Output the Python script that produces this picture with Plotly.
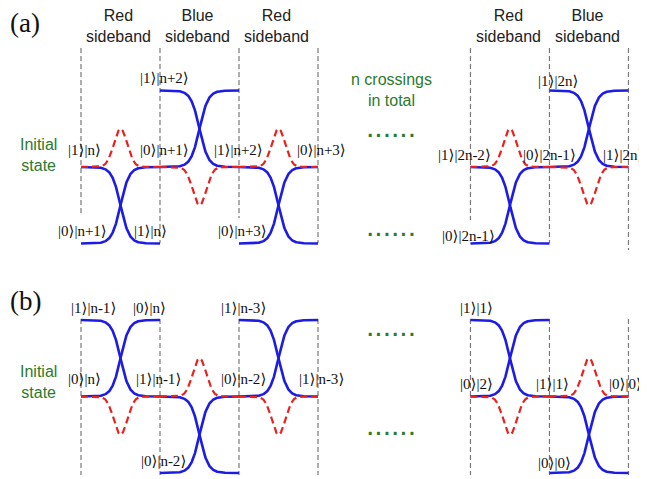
import numpy as np
import plotly.graph_objects as go

# ---------------- data ----------------
# sideband type of each crossing (left group: 3 crossings, right group: 2 crossings)
sideband_types = ["Red", "Blue", "Red", "Red", "Blue"]
segment_group = [0, 0, 0, 1, 1]
segment_slot = [0, 1, 2, 0, 1]
# level that the middle state exchanges with in each crossing (+1 upper, -1 lower)
partner_a = [-1, 1, -1, -1, 1]
partner_b = [1, -1, 1, 1, -1]

# ket labels: (qubit state, phonon state, boundary id, level)
kets_a = [
    ("1", "n", 0, 0), ("0", "n+1", 1, 0), ("1", "n+2", 2, 0), ("0", "n+3", 3, 0),
    ("1", "2n-2", 4, 0), ("0", "2n-1", 5, 0), ("1", "2n", 6, 0),
    ("1", "n+2", 1, 1), ("1", "2n", 5, 1),
    ("0", "n+1", 0, -1), ("1", "n", 1, -1), ("0", "n+3", 2, -1), ("0", "2n-1", 4, -1),
]
kets_b = [
    ("1", "n-1", 0, 1), ("0", "n", 1, 1), ("1", "n-3", 2, 1), ("1", "1", 4, 1),
    ("0", "n", 0, 0), ("1", "n-1", 1, 0), ("0", "n-2", 2, 0), ("1", "n-3", 3, 0),
    ("0", "2", 4, 0), ("1", "1", 5, 0), ("0", "0", 6, 0),
    ("0", "n-2", 1, -1), ("0", "0", 5, -1),
]

# ---------------- layout constants ----------------
W, H = 647, 479
PAGE_MARGIN = 8                      # default body margin of the html page
X0_PX, SEG_PX = 81.0, 79.0           # first boundary / segment width in pixels
MID_A_PX, UNIT_PX = 167.0, 76.5      # middle level of (a) / level spacing
GROUP_START = [0.0, 4.93]
B_OFFSET = -3.0                      # panel (b) shift in level units

BLUE = "#1c1ce6"
RED = "#e8231f"
GREEN = "#2c7a2c"
GRAY = "#7a7a7a"

RB = "<span style='font-family:DejaVu Serif'>⟩</span>"


def ket(q, ph):
    return f"|{q}{RB}|{ph}{RB}"


def xd(px):
    return (px - X0_PX) / SEG_PX


def yd(py):
    return (MID_A_PX - py) / UNIT_PX


boundaries = [GROUP_START[0] + i for i in range(4)] + [GROUP_START[1] + i for i in range(3)]

fig = go.Figure()

t = np.linspace(0, 1, 240)
s = (1 + np.tanh((t - 0.5) / 0.11)) / 2
g = np.exp(-((t - 0.5) ** 2) / (2 * 0.085 ** 2))

for partners, off in [(partner_a, 0.0), (partner_b, B_OFFSET)]:
    for k in range(len(sideband_types)):
        x = GROUP_START[segment_group[k]] + segment_slot[k] + t
        p = partners[k]
        fig.add_trace(go.Scatter(x=x, y=off + p * s, mode="lines",
                                 line=dict(color=BLUE, width=2.6), hoverinfo="skip"))
        fig.add_trace(go.Scatter(x=x, y=off + p * (1 - s), mode="lines",
                                 line=dict(color=BLUE, width=2.6), hoverinfo="skip"))
    for k in range(len(sideband_types)):
        x = GROUP_START[segment_group[k]] + segment_slot[k] + t
        p = partners[k]
        fig.add_trace(go.Scatter(x=x, y=off - 0.5 * p * g, mode="lines",
                                 line=dict(color=RED, width=2.2, dash="7px,4px"),
                                 hoverinfo="skip"))

# vertical dashed separators
a_bottoms = [215, 243, 218, 243, 220, 243, 250]
for bx, bot in zip(boundaries, a_bottoms):
    fig.add_shape(type="line", x0=bx, x1=bx, y0=yd(48), y1=yd(bot),
                  line=dict(color=GRAY, width=1.2, dash="5px,3px"), layer="below")
for bx in boundaries:
    fig.add_shape(type="line", x0=bx, x1=bx, y0=yd(319), y1=yd(475),
                  line=dict(color=GRAY, width=1.2, dash="5px,3px"), layer="below")

ann = []
KET_FONT = dict(family="Liberation Serif, DejaVu Serif", size=15, color="#111")
# small pixel nudges for ket labels
a_dx = [3, 4, -1, 3, -6, 0, -5, 4, 9, 1, -10, 3, -2]
a_dy = [17, 17, 17, 17, 12, 12, 12, 13, 10, 13, 13, 13, 8]
b_dx = [12, -11, 4, 6, 3, -2, 4, 3, 6, 3, -3, 3, 5]
b_dy = [12, 12, 12, 12, 18, 18, 18, 18, 13, 13, 13, 12, 10]
for (q, ph, bi, lev), dx, dy in zip(kets_a, a_dx, a_dy):
    ann.append(dict(x=boundaries[bi] + dx / SEG_PX, y=lev + dy / UNIT_PX, text=ket(q, ph),
                    showarrow=False, xanchor="center", yanchor="middle", font=KET_FONT))
for (q, ph, bi, lev), dx, dy in zip(kets_b, b_dx, b_dy):
    ann.append(dict(x=boundaries[bi] + dx / SEG_PX, y=B_OFFSET + lev + dy / UNIT_PX,
                    text=ket(q, ph), showarrow=False, xanchor="center", yanchor="middle",
                    font=KET_FONT))

# sideband headers
for k, typ in enumerate(sideband_types):
    cx = GROUP_START[segment_group[k]] + segment_slot[k] + 0.5
    ann.append(dict(x=cx - 0.02, y=yd(26), text=f"{typ}<br>sideband", showarrow=False,
                    xanchor="center", yanchor="middle",
                    font=dict(family="Liberation Sans, Arial", size=16, color="#222")))

# panel letters
ann.append(dict(x=xd(25), y=yd(23), text="(a)", showarrow=False, xanchor="center",
                yanchor="middle", font=dict(family="Liberation Serif", size=27, color="#111")))
ann.append(dict(x=xd(25), y=yd(301), text="(b)", showarrow=False, xanchor="center",
                yanchor="middle", font=dict(family="Liberation Serif", size=27, color="#111")))

# green texts
for cy in (155, 382):
    ann.append(dict(x=xd(38), y=yd(cy), text="Initial<br>state", showarrow=False,
                    xanchor="center", yanchor="middle",
                    font=dict(family="Liberation Sans, Arial", size=16, color=GREEN)))
ann.append(dict(x=xd(391), y=yd(90), text="n crossings<br>in total", showarrow=False,
                xanchor="center", yanchor="middle",
                font=dict(family="Liberation Sans, Arial", size=16, color=GREEN)))
for cy in (135, 234, 334, 433):
    ann.append(dict(x=xd(391), y=yd(cy - 9), text="......", showarrow=False,
                    xanchor="center", yanchor="middle",
                    font=dict(family="Liberation Sans, Arial", size=30, color=GREEN)))

# the page draws the figure PAGE_MARGIN px in from the top-left corner,
# so the visible window covers reference pixels [PAGE_MARGIN, W + PAGE_MARGIN]
fig.update_layout(
    width=W, height=H, margin=dict(l=0, r=0, t=0, b=0),
    paper_bgcolor="white", plot_bgcolor="white", showlegend=False,
    annotations=ann,
    xaxis=dict(range=[xd(PAGE_MARGIN), xd(W + PAGE_MARGIN)], visible=False, fixedrange=True),
    yaxis=dict(range=[yd(H + PAGE_MARGIN), yd(PAGE_MARGIN)], visible=False, fixedrange=True),
)
fig.write_html("out.html")
